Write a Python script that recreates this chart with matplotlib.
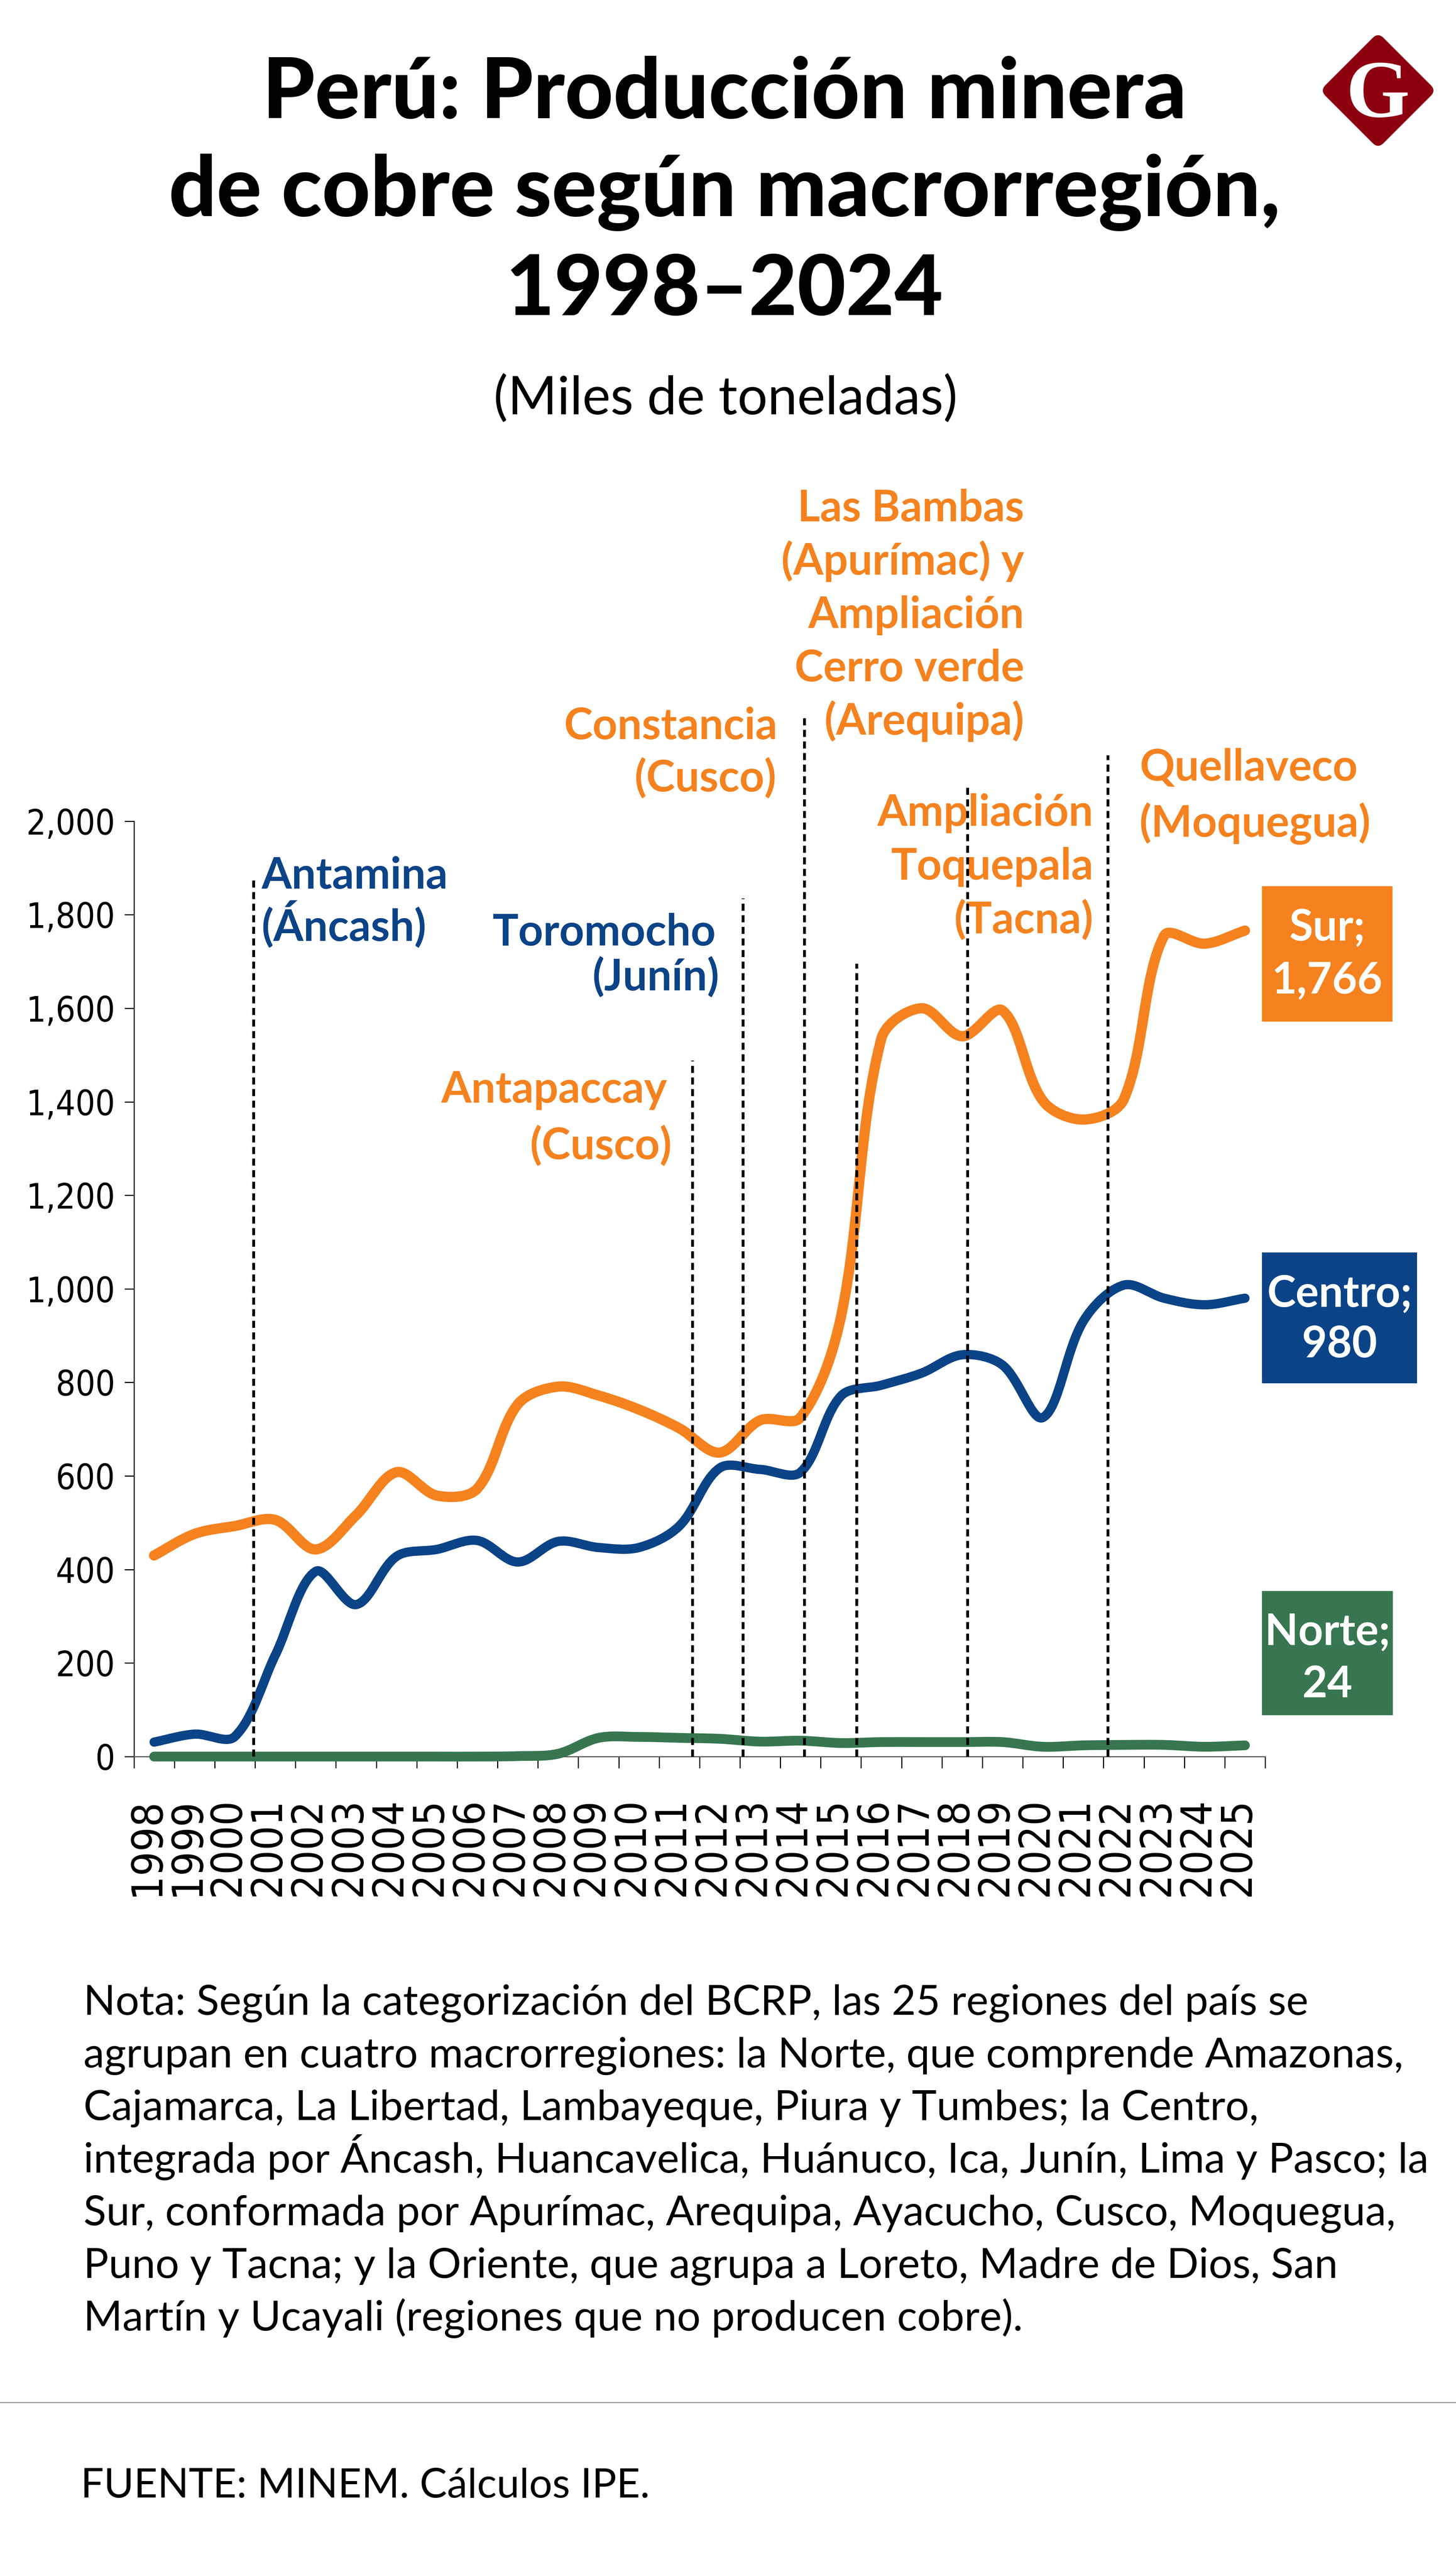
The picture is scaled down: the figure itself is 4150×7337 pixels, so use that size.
import matplotlib

matplotlib.use("Agg")

import matplotlib.pyplot as plt
import numpy as np
from matplotlib.lines import Line2D
from matplotlib.patches import FancyBboxPatch, PathPatch, Rectangle
from matplotlib.path import Path
from matplotlib.ticker import FixedLocator
from matplotlib.transforms import Affine2D, ScaledTranslation

W, H = 4150, 7337
DPI = 100

# --- data (miles de toneladas) ---
years = list(range(1998, 2026))
sur = [430, 476, 493, 506, 443, 516, 608, 558, 573, 753, 791, 772, 742, 702,
       650, 719, 725, 940, 1535, 1600, 1540, 1595, 1402, 1362, 1405, 1755, 1738, 1766]
centro = [31, 48, 43, 217, 396, 325, 428, 443, 462, 416, 460, 447, 447, 493,
          617, 614, 608, 771, 794, 820, 859, 837, 725, 931, 1008, 980, 966, 980]
norte = [0, 0, 0, 0, 0, 0, 0, 0, 0, 1, 6, 40, 42, 40,
         38, 32, 34, 29, 31, 31, 31, 31, 21, 24, 25, 25, 21, 24]
yticks = list(range(0, 2001, 200))

# mine start markers: position on the year axis and height of the dotted line
mine_x = [2000.46, 2011.33, 2012.58, 2014.10, 2015.39, 2018.14, 2021.61]
mine_top = [1877, 1488, 1835, 2226, 1695, 2081, 2141]

ORANGE = "#F5821F"
BLUE = "#0B4387"
GREEN = "#377650"
LOGO_RED = "#8E000F"

# annotation lines: text, colour, alignment, x px, baseline px (from top-left)
notes_chart = [
    ("Antamina", BLUE, "left", 746, 2533),
    ("(Áncash)", BLUE, "left", 746, 2681),
    ("Toromocho", BLUE, "right", 2040, 2695),
    ("(Junín)", BLUE, "right", 2050, 2823),
    ("Antapaccay", ORANGE, "right", 1902, 3143),
    ("(Cusco)", ORANGE, "right", 1915, 3304),
    ("Constancia", ORANGE, "right", 2216, 2107),
    ("(Cusco)", ORANGE, "right", 2213, 2256),
    ("Las Bambas", ORANGE, "right", 2919, 1486),
    ("(Apurímac) y", ORANGE, "right", 2919, 1638),
    ("Ampliación", ORANGE, "right", 2919, 1790),
    ("Cerro verde", ORANGE, "right", 2919, 1942),
    ("(Arequipa)", ORANGE, "right", 2919, 2094),
    ("Ampliación", ORANGE, "right", 3116, 2354),
    ("Toquepala", ORANGE, "right", 3116, 2507),
    ("(Tacna)", ORANGE, "right", 3116, 2660),
    ("Quellaveco", ORANGE, "left", 3248, 2224),
    ("(Moquegua)", ORANGE, "left", 3248, 2385),
]

note_lines = [
    "Nota: Según la categorización del BCRP, las 25 regiones del país se",
    "agrupan en cuatro macrorregiones: la Norte, que comprende Amazonas,",
    "Cajamarca, La Libertad, Lambayeque, Piura y Tumbes; la Centro,",
    "integrada por Áncash, Huancavelica, Huánuco, Ica, Junín, Lima y Pasco; la",
    "Sur, conformada por Apurímac, Arequipa, Ayacucho, Cusco, Moquegua,",
    "Puno y Tacna; y la Oriente, que agrupa a Loreto, Madre de Dios, San",
    "Martín y Ucayali (regiones que no producen cobre).",
]


def fx(px: float) -> float:
    return px / W


def fy(py: float) -> float:
    return 1 - py / H


def smooth_path(xs, ys, sx: float, sy: float) -> Path:
    # Bezier through every point; handle lengths weighted by on-screen segment
    # lengths, like the "smoothed line" of a spreadsheet chart
    pts = np.column_stack([xs, ys]).astype(float)
    scr = pts * np.array([sx, sy])
    n = len(pts)

    def handle(i: int, toward: int) -> np.ndarray:
        a, b = max(i - 1, 0), min(i + 1, n - 1)
        d_prev = np.hypot(*(scr[i] - scr[a]))
        d_next = np.hypot(*(scr[b] - scr[i]))
        d_side = d_next if toward > i else d_prev
        total = d_prev + d_next
        if total == 0:
            return pts[i]
        sign = 1 if toward > i else -1
        return pts[i] + sign * (pts[b] - pts[a]) * d_side / total / 3

    verts = [pts[0]]
    codes = [Path.MOVETO]
    for i in range(n - 1):
        verts += [handle(i, i + 1), handle(i + 1, i), pts[i + 1]]
        codes += [Path.CURVE4] * 3
    return Path(verts, codes)


fig = plt.figure(figsize=(W / DPI, H / DPI), dpi=DPI)
fig.patch.set_facecolor("white")

ax_left, ax_right = 381.7, 3606
ax_top, ax_bottom = 2340.6, 5007
ax = fig.add_axes([fx(ax_left), fy(ax_bottom), fx(ax_right - ax_left), (ax_bottom - ax_top) / H])
ax.set_xlim(1997.5, 2025.5)
ax.set_ylim(0, 2000)
ax.patch.set_alpha(0)
px_per_year = (ax_right - ax_left) / 28
px_per_unit = (ax_bottom - ax_top) / 2000

for values, color, lw, z in [(norte, GREEN, 20, 4), (centro, BLUE, 19, 5), (sur, ORANGE, 21, 4.5)]:
    path = smooth_path(years, values, px_per_year, px_per_unit)
    ax.add_patch(PathPatch(path, facecolor="none", edgecolor=color, lw=lw,
                           capstyle="round", joinstyle="round", zorder=z, clip_on=False))

for x, top in zip(mine_x, mine_top):
    ax.plot([x, x], [0, top], color="black", lw=5.8, linestyle=(0, (2.5, 1.6)),
            zorder=6, clip_on=False)

# axes styling
for side in ["top", "right"]:
    ax.spines[side].set_visible(False)
ax.spines["left"].set_linewidth(2.2)
ax.spines["bottom"].set_linewidth(2.2)
ax.spines["bottom"].set_color("#555555")

ax.set_yticks(yticks, labels=[f"{v:,}" for v in yticks], fontsize=71,
              fontfamily="DejaVu Sans", fontstretch="condensed")
ax.set_xticks(years, labels=[str(y) for y in years], rotation=90, fontsize=88,
              fontfamily="DejaVu Sans", fontstretch="condensed")
ax.xaxis.set_minor_locator(FixedLocator(np.arange(1997.5, 2026, 1.0)))
ax.tick_params(axis="y", length=19.4, width=2.2, pad=19.4)
ax.tick_params(axis="x", which="major", length=0, pad=85)
ax.tick_params(axis="x", which="minor", length=24, width=2.2, direction="out")
shift = ScaledTranslation(-0.21, 0, fig.dpi_scale_trans)
for lab in ax.get_xticklabels():
    lab.set_transform(lab.get_transform() + shift)

# chart annotations (behind the dotted lines)
for text, color, ha, px, py in notes_chart:
    ax.text(fx(px), fy(py), text, transform=fig.transFigure, ha=ha, va="baseline",
            color=color, fontsize=89, fontfamily="Lato", fontweight="bold",
            zorder=3, clip_on=False)

# end-value boxes
boxes = [
    ("Sur;", sur[-1], ORANGE, 3597, 3969, 2526, 2912, 2680, 2832),
    ("Centro;", centro[-1], BLUE, 3597, 4039, 3570, 3943, 3724, 3869),
    ("Norte;", norte[-1], GREEN, 3597, 3970, 4535, 4889, 4688, 4838),
]
for name, last, color, x0, x1, y0, y1, b1, b2 in boxes:
    fig.add_artist(Rectangle((fx(x0), fy(y1)), fx(x1 - x0), (y1 - y0) / H,
                             transform=fig.transFigure, facecolor=color, edgecolor="none"))
    cx = (x0 + x1) / 2
    for s, b in [(name, b1), (f"{last:,}", b2)]:
        fig.text(fx(cx), fy(b), s, ha="center", va="baseline", color="white",
                 fontsize=89, fontfamily="Lato", fontweight="bold")

# title block
title_lines = ["Perú: Producción minera", "de cobre según macrorregión,", "1998–2024"]
for s, b in zip(title_lines, [337, 616, 898]):
    fig.text(fx(2065), fy(b), s, ha="center", va="baseline", fontsize=172,
             fontfamily="Lato", fontweight="black", color="black")
fig.text(fx(2068), fy(1181), "(Miles de toneladas)", ha="center", va="baseline",
         fontsize=109, fontfamily="Lato", color="black")

# logo
cx, cy = 3928, H - 258
side, rad = 234, 22
logo = FancyBboxPatch((cx - side / 2 + rad, cy - side / 2 + rad), side - 2 * rad, side - 2 * rad,
                      boxstyle=f"round,pad={rad}", facecolor=LOGO_RED, edgecolor="none",
                      transform=Affine2D().rotate_deg_around(cx, cy, 45))
fig.add_artist(logo)
fig.text(fx(3927), fy(333), "G", ha="center", va="baseline", color="white",
         fontsize=168, fontfamily="Liberation Serif", fontweight="bold")

# note and source
for k, s in enumerate(note_lines):
    fig.text(fx(238), fy(5743 + 150 * k), s, ha="left", va="baseline",
             fontsize=86, fontfamily="Lato", color="black")
fig.add_artist(Line2D([0, 1], [fy(6848), fy(6848)], transform=fig.transFigure,
                      color="#8c8c8c", lw=2))
fig.text(fx(230), fy(7119), "FUENTE: MINEM. Cálculos IPE.", ha="left", va="baseline",
         fontsize=84, fontfamily="Lato", color="black")

fig.savefig("out.png", dpi=DPI)
